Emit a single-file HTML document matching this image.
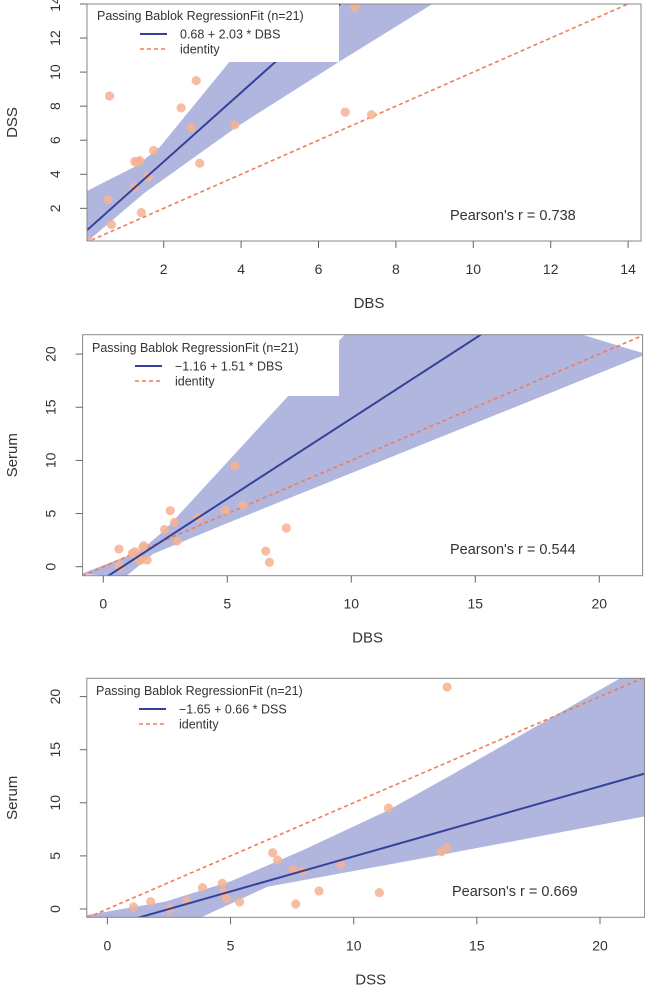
<!DOCTYPE html>
<html><head><meta charset="utf-8"><style>
html,body{margin:0;padding:0;background:#fff;}
svg{display:block;font-family:"Liberation Sans",sans-serif;}
</style></head><body>
<svg id="chart" width="645" height="989" viewBox="0 0 645 989" xmlns="http://www.w3.org/2000/svg"></svg>
<script>
// ---- Panel 1: DSS vs DBS ----
const p1X = [0.60,2.84,2.45,2.71,3.83,1.74,1.25,1.38,2.93,1.59,1.25,0.56,1.42,0.65,6.69,7.37,6.94,0.07,1.30,1.35,1.60];
const p1Y = [8.60,9.50,7.90,6.75,6.90,5.40,4.75,4.80,4.65,3.85,3.25,2.50,1.75,1.05,7.65,7.50,13.80,0.05,4.70,4.75,3.85];
const p1Upper = [[0,3.0],[1.3,4.5],[1.9,5.6],[5.1,14.5]];
const p1Lower = [[0,0.0],[1.5,2.9],[3.9,6.8],[6.6,10.7],[9.3,14.5]];
const p1Fit = [0.68, 2.03];
const p1XTicks = [2,4,6,8,10,12,14];
const p1YTicks = [2,4,6,8,10,12,14];
// ---- Panel 2: Serum vs DBS ----
const p2X = [5.3,2.7,2.87,3.83,2.47,4.92,5.63,7.38,6.55,6.7,0.63,1.63,1.27,1.38,1.77,2.97,0.63,0.67,1.5,1.17,1.6];
const p2Y = [9.5,5.27,4.17,4.6,3.5,5.33,5.8,3.64,1.47,0.41,1.66,1.97,1.41,0.78,0.63,2.41,0.16,-0.06,0.6,1.25,1.8];
const p2Upper = [[-0.9,-0.7],[1.5,1.5],[2.5,3.5],[9.8,22],[12,27]];
const p2Lower = [[0.92,-0.9],[2,1.2],[5,4.1],[10,8.8],[21.9,20]];
const p2Fit = [-1.16, 1.51];
const p2XTicks = [0,5,10,15,20];
const p2YTicks = [0,5,10,15,20];
// ---- Panel 3: Serum vs DSS ----
const p3X = [13.79,11.41,13.79,13.56,6.71,6.91,9.48,7.55,7.92,4.66,3.86,4.70,4.83,8.59,11.04,5.37,3.22,1.76,1.06,2.52,7.65];
const p3Y = [20.9,9.51,5.78,5.4,5.3,4.6,4.2,3.7,3.58,2.42,2.0,1.57,1.0,1.7,1.54,0.66,0.75,0.69,0.19,0.0,0.47];
const p3Upper = [[-0.9,-0.6],[2.35,0.7],[5,2.6],[8,5.6],[11.4,9.3],[14.1,12.8],[20.8,21.7],[22,24]];
const p3Lower = [[-0.9,-0.9],[3.7,-0.9],[6.5,2.1],[12.4,4.6],[22,8.8]];
const p3Fit = [-1.65, 0.66];
const p3XTicks = [0,5,10,15,20];
const p3YTicks = [0,5,10,15,20];

const NS = "http://www.w3.org/2000/svg";
const svg = document.getElementById('chart');
function mk(tag, attrs, parent){
  const e = document.createElementNS(NS, tag);
  for (const k in attrs) e.setAttribute(k, attrs[k]);
  (parent||svg).appendChild(e);
  return e;
}
function panel(cfg, xs, ys, upper, lower, fit, xt, yt){
  const g = mk('g', {});
  
  
  const sx = v => cfg.x0 + v*cfg.kx;
  const sy = v => cfg.y0 - v*cfg.ky;
  const cid = cfg.name + '-clip';
  const cp = mk('clipPath', {id: cid}, g);
  mk('rect', {x: cfg.L, y: cfg.T, width: cfg.R-cfg.L, height: cfg.B-cfg.T}, cp);
  const pg = mk('g', {'clip-path': 'url(#'+cid+')'}, g);
  // band
  const pts = upper.map(p => sx(p[0])+','+sy(p[1])).concat(lower.slice().reverse().map(p => sx(p[0])+','+sy(p[1])));
  const band = mk('polygon', {points: pts.join(' '), fill: '#b1b6df'}, pg);
  
  
  // identity
  const id = mk('line', {x1: sx(-5), y1: sy(-5), x2: sx(30), y2: sy(30), stroke: '#ef7d57', 'stroke-width': 1.6, 'stroke-dasharray': '4,3'}, pg);
  
  
  // points
  xs.forEach((xv, i) => {
    const c = mk('circle', {cx: sx(xv), cy: sy(ys[i]), r: 4.6, fill: '#f6b193', 'fill-opacity': 0.85}, pg);
    
    
  });
  // fit line
  const fl = mk('line', {x1: sx(-5), y1: sy(fit[0]+fit[1]*-5), x2: sx(30), y2: sy(fit[0]+fit[1]*30), stroke: '#35429a', 'stroke-width': 2}, pg);
  
  
  // legend
  const lg = mk('g', {}, g);
  
  
  mk('rect', {x: cfg.L, y: cfg.T, width: cfg.legR-cfg.L, height: cfg.legB-cfg.T, fill: '#fff'}, lg);
  const lt = mk('text', {x: cfg.legX, y: cfg.legY+4, 'font-size': 12.5, fill: '#333'}, lg);
  lt.textContent = 'Passing Bablok RegressionFit (n=21)';
  mk('line', {x1: cfg.legX+43, x2: cfg.legX+70, y1: cfg.legY+18, y2: cfg.legY+18, stroke: '#35429a', 'stroke-width': 2}, lg);
  const t1 = mk('text', {x: cfg.legX+83, y: cfg.legY+22.5, 'font-size': 12.5, fill: '#333'}, lg);
  t1.textContent = cfg.eq;
  mk('line', {x1: cfg.legX+43, x2: cfg.legX+70, y1: cfg.legY+33, y2: cfg.legY+33, stroke: '#ef7d57', 'stroke-width': 1.4, 'stroke-dasharray': '4,3'}, lg);
  const t2 = mk('text', {x: cfg.legX+83, y: cfg.legY+37.5, 'font-size': 12.5, fill: '#333'}, lg);
  t2.textContent = 'identity';
  // box
  mk('rect', {x: cfg.L, y: cfg.T, width: cfg.R-cfg.L, height: cfg.B-cfg.T, fill: 'none', stroke: '#888', 'stroke-width': 1}, g);
  // ticks
  xt.forEach(v => {
    mk('line', {x1: sx(v), x2: sx(v), y1: cfg.B, y2: cfg.B+7, stroke: '#666'}, g);
    const t = mk('text', {x: sx(v), y: cfg.B+33, 'text-anchor': 'middle', 'font-size': 14, fill: '#333'}, g);
    t.textContent = v;
  });
  yt.forEach(v => {
    mk('line', {x1: cfg.L, x2: cfg.L-7, y1: sy(v), y2: sy(v), stroke: '#666'}, g);
    const t = mk('text', {x: 0, y: 0, 'text-anchor': 'middle', 'font-size': 14, fill: '#333', transform: 'translate(' + (cfg.L-27) + ',' + sy(v) + ') rotate(-90)'}, g);
    t.textContent = v;
  });
  const xl = mk('text', {x: (cfg.L+cfg.R)/2+5, y: cfg.B+67, 'text-anchor': 'middle', 'font-size': 15, fill: '#333'}, g);
  xl.textContent = cfg.xlab;
  
  
  const yl = mk('text', {x: 0, y: 0, 'text-anchor': 'middle', 'font-size': 15, fill: '#333', transform: 'translate(17,' + ((cfg.T+cfg.B)/2) + ') rotate(-90)'}, g);
  yl.textContent = cfg.ylab;
  
  
  const pr = mk('text', {x: cfg.prX, y: cfg.prY, 'font-size': 14.5, fill: '#333'}, g);
  pr.textContent = cfg.pr;
  
  
}
panel({name:'panel-dss-vs-dbs', L:87, R:641, T:4, B:241, x0:86.3, kx:38.7, y0:242.4, ky:17.03,
  legX:97, legY:16, legR:339, legB:62, eq:'0.68 + 2.03 * DBS', xlab:'DBS', ylab:'DSS',
  pr:"Pearson's r = 0.738", prX:450, prY:220}, p1X, p1Y, p1Upper, p1Lower, p1Fit, p1XTicks, p1YTicks);
panel({name:'panel-serum-vs-dbs', L:82.6, R:642.6, T:334.7, B:575.7, x0:103.3, kx:24.8, y0:566.7, ky:10.63,
  legX:92, legY:348, legR:339, legB:396, eq:'\u22121.16 + 1.51 * DBS', xlab:'DBS', ylab:'Serum',
  pr:"Pearson's r = 0.544", prX:450, prY:554}, p2X, p2Y, p2Upper, p2Lower, p2Fit, p2XTicks, p2YTicks);
panel({name:'panel-serum-vs-dss', L:86.8, R:644.6, T:678.3, B:917.3, x0:107.4, kx:24.63, y0:909, ky:10.62,
  legX:96, legY:691, legR:338, legB:735, eq:'\u22121.65 + 0.66 * DSS', xlab:'DSS', ylab:'Serum',
  pr:"Pearson's r = 0.669", prX:452, prY:896}, p3X, p3Y, p3Upper, p3Lower, p3Fit, p3XTicks, p3YTicks);
</script>
</body></html>
